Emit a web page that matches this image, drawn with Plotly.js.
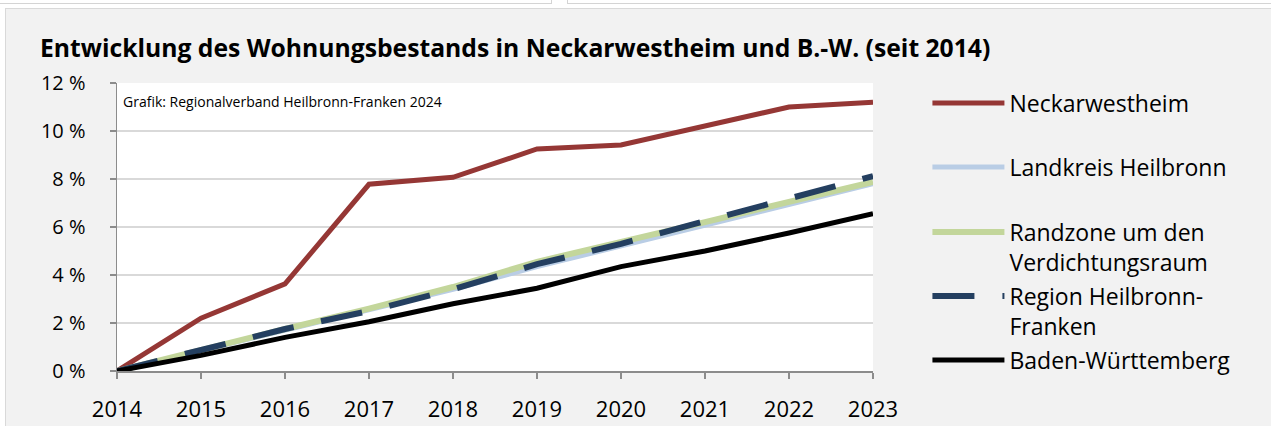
<!DOCTYPE html>
<html>
<head>
<meta charset="utf-8">
<script src="https://cdn.plot.ly/plotly-3.0.1.min.js"></script>
<style>
  html, body { margin: 0; padding: 0; background: #ffffff; width: 1271px; height: 426px; overflow: hidden; }
  #boxL { position: absolute; left: -2px; top: -10px; width: 552px; height: 12px; background: #fff; border: 1px solid #d4d4d4; }
  #boxR { position: absolute; left: 567px; top: -10px; width: 720px; height: 12px; background: #fff; border: 1px solid #d4d4d4; }
  #panel { position: absolute; left: 5px; top: 8px; width: 1280px; height: 430px; background: #f2f2f2; border: 1px solid #d9d9d9; }
  #chart { position: absolute; left: 0; top: 0; width: 1271px; height: 426px; }
</style>
</head>
<body>
<div id="boxL"></div>
<div id="boxR"></div>
<div id="panel"></div>
<div id="chart"></div>
<script>
const years = [2014, 2015, 2016, 2017, 2018, 2019, 2020, 2021, 2022, 2023];
const neckarwestheim = [0, 2.2, 3.63, 7.78, 8.07, 9.25, 9.42, 10.22, 11.0, 11.2];
const landkreisHeilbronn = [0, 0.85, 1.7, 2.5, 3.4, 4.35, 5.2, 6.05, 6.95, 7.8];
const randzone = [0, 0.9, 1.75, 2.6, 3.5, 4.55, 5.35, 6.2, 7.05, 7.88];
const regionHNF = [0, 0.85, 1.75, 2.5, 3.4, 4.45, 5.3, 6.25, 7.2, 8.12];
const badenWuerttemberg = [0, 0.65, 1.4, 2.05, 2.8, 3.45, 4.35, 5.0, 5.75, 6.55];
const seriesNames = ['Neckarwestheim', 'Landkreis Heilbronn', 'Randzone um den<br>Verdichtungsraum', 'Region Heilbronn-<br>Franken', 'Baden-Württemberg'];
const yTicks = [0, 2, 4, 6, 8, 10, 12];
const titleText = 'Entwicklung des Wohnungsbestands in Neckarwestheim und B.-W. (seit 2014)';
const sourceText = 'Grafik: Regionalverband Heilbronn-Franken 2024';

const FONT = 'Open Sans, Noto Sans, sans-serif';

function tr(y, name, color, width, dash, legendId) {
  return {
    x: years, y: y, name: name, type: 'scatter', mode: 'lines',
    line: { color: color, width: width, dash: dash || 'solid' },
    legend: legendId, hoverinfo: 'skip'
  };
}

const data = [
  tr(neckarwestheim, seriesNames[0], '#953735', 5, null, 'legend'),
  tr(landkreisHeilbronn, seriesNames[1], '#b9cde5', 5, null, 'legend2'),
  tr(randzone, seriesNames[2], '#c3d69b', 6, null, 'legend3'),
  tr(regionHNF, seriesNames[3], '#243f60', 6, '42px,28px', 'legend4'),
  tr(badenWuerttemberg, seriesNames[4], '#000000', 5, null, 'legend5')
];

function leg(yCenter) {
  return {
    x: 1.072, xanchor: 'left', y: yCenter, yanchor: 'middle',
    bgcolor: 'rgba(0,0,0,0)', borderwidth: 0,
    font: { family: FONT, size: 23, color: '#000' },
    itemwidth: 72, valign: 'top', itemclick: false, itemdoubleclick: false
  };
}

const layout = {
  width: 1271, height: 426,
  margin: { l: 117, r: 398, t: 83, b: 55 },
  paper_bgcolor: 'rgba(0,0,0,0)',
  plot_bgcolor: '#ffffff',
  showlegend: true,
  title: {
    text: '<b>' + titleText + '</b>',
    font: { family: FONT, size: 24.7, color: '#000' },
    x: 40 / 1271, xanchor: 'left', xref: 'container',
    y: 1 - 48 / 426, yanchor: 'middle', yref: 'container'
  },
  xaxis: {
    type: 'linear', range: [2014, 2023], tickmode: 'array', tickvals: years,
    ticktext: years.map(String), showgrid: false, zeroline: false,
    showline: true, linecolor: '#8c8c8c', linewidth: 1.5,
    ticks: 'outside', ticklen: 6, tickcolor: '#8c8c8c', tickwidth: 1.5,
    ticklabelstandoff: 12,
    tickfont: { family: FONT, size: 22, color: '#000' }
  },
  yaxis: {
    range: [0, 12], tickmode: 'array', tickvals: yTicks,
    ticktext: yTicks.map(v => v + ' %'),
    showgrid: true, gridcolor: '#d9d9d9', gridwidth: 2, zeroline: false,
    showline: true, linecolor: '#8c8c8c', linewidth: 1.5,
    ticks: 'outside', ticklen: 6, tickcolor: '#8c8c8c', tickwidth: 1.5,
    ticklabelstandoff: 20,
    tickfont: { family: FONT, size: 20, color: '#000' }
  },
  legend: leg((371 - 103) / 288),
  legend2: leg((371 - 167) / 288),
  legend3: leg((371 - 247) / 288),
  legend4: leg((371 - 311) / 288),
  legend5: leg((371 - 360) / 288),
  annotations: [{
    text: sourceText, xref: 'paper', yref: 'paper',
    x: 4 / 756, y: (371 - 101) / 288, xanchor: 'left', yanchor: 'middle',
    showarrow: false, font: { family: FONT, size: 14, color: '#000' }
  }]
};

Plotly.newPlot('chart', data, layout, { staticPlot: true, displayModeBar: false });
</script>
</body>
</html>
